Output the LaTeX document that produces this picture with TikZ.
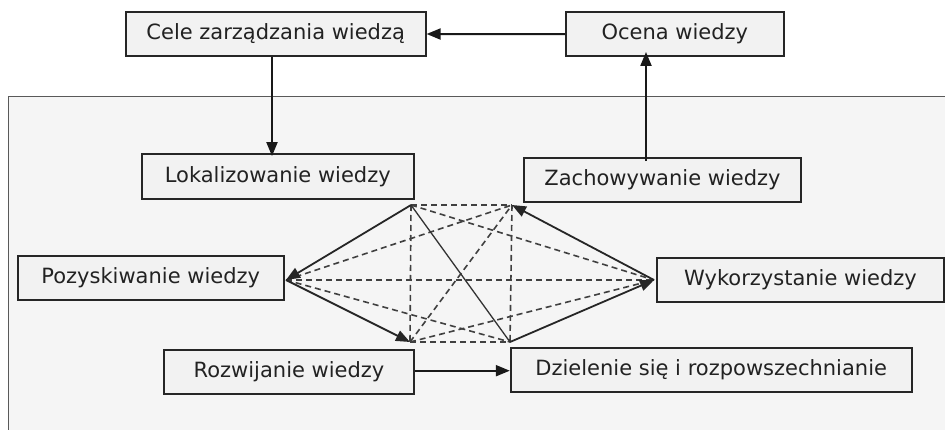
\documentclass[tikz,border=0pt]{standalone}
\usepackage{fontspec}
\setmainfont{DejaVu Sans}
\usetikzlibrary{arrows.meta}
\definecolor{boxfill}{HTML}{F2F2F2}
\definecolor{areafill}{HTML}{F5F5F5}
\definecolor{txt}{HTML}{222222}
\tikzset{
  kbox/.style={draw=black!85, line width=1.8pt, fill=boxfill, inner sep=0pt,
    text=txt, font=\fontsize{21}{24}\selectfont},
  tip/.style={-{Triangle[length=14pt,width=11pt]}},
  solidedge/.style={line width=1.8pt, black!85},
  thinedge/.style={line width=1.3pt, black!80},
  dashedge/.style={line width=1.6pt, black!75, dash pattern=on 6pt off 4pt},
  flow/.style={line width=2pt, black!90, tip}
}
\begin{document}
\begin{tikzpicture}[x=1pt,y=-1pt]
\useasboundingbox (0,0) rectangle (945,430);
\fill[white] (0,0) rectangle (945,430);
\draw[line width=1.5pt, black!65, fill=areafill] (8.5,96.5) rectangle (960,445);

\node[kbox, minimum width=300pt, minimum height=43.4pt] (cele) at (275.7,34) {Cele zarządzania wiedzą};
\node[kbox, minimum width=217.7pt, minimum height=43.7pt] (ocena) at (674.8,34.2) {Ocena wiedzy};
\node[kbox, minimum width=272.3pt, minimum height=45pt] (lok) at (277.8,176.5) {Lokalizowanie wiedzy};
\node[kbox, minimum width=276.4pt, minimum height=44pt] (zach) at (662.5,180) {Zachowywanie wiedzy};
\node[kbox, minimum width=266pt, minimum height=44.3pt] (poz) at (150.7,277.8) {Pozyskiwanie wiedzy};
\node[kbox, minimum width=287.6pt, minimum height=44.6pt] (wyk) at (800.5,280) {Wykorzystanie wiedzy};
\node[kbox, minimum width=250.6pt, minimum height=44.3pt] (roz) at (289,372.2) {Rozwijanie wiedzy};
\node[kbox, minimum width=401pt, minimum height=44pt] (dz) at (711.2,369.7) {Dzielenie się i rozpowszechnianie};

% flow arrows
\draw[flow] (ocena.west) -- (cele.east);
\draw[flow] (cele.south -| 272,0) -- ([yshift=-3pt]lok.north -| 272,0);
\draw[flow] ([yshift=-4pt]zach.north -| 646,0) -- ([yshift=5pt]ocena.south -| 646,0);
\draw[flow] (roz.east |- 0,370.7) -- (dz.west |- 0,370.7);

% hexagon vertices
\coordinate (A) at (411,205);
\coordinate (B) at (512,205);
\coordinate (C) at (286,280);
\coordinate (D) at (654,280);
\coordinate (E) at (410,342);
\coordinate (F) at (510,342);

% dashed edges
\draw[dashedge] (A) -- (B);
\draw[dashedge] (E) -- (F);
\draw[dashedge] (A) -- (E);
\draw[dashedge] (B) -- (F);
\draw[dashedge] (C) -- (D);
\draw[dashedge] (C) -- (B);
\draw[dashedge] (C) -- (F);
\draw[dashedge] (A) -- (D);
\draw[dashedge] (E) -- (D);
\draw[dashedge] (E) -- (B);

% solid edges
\draw[thinedge] (A) -- (F);
\draw[solidedge, tip] (A) -- (C);
\draw[solidedge, tip] (C) -- (E);
\draw[solidedge, tip] (D) -- (B);
\draw[solidedge, tip] (F) -- (D);
\end{tikzpicture}
\end{document}
